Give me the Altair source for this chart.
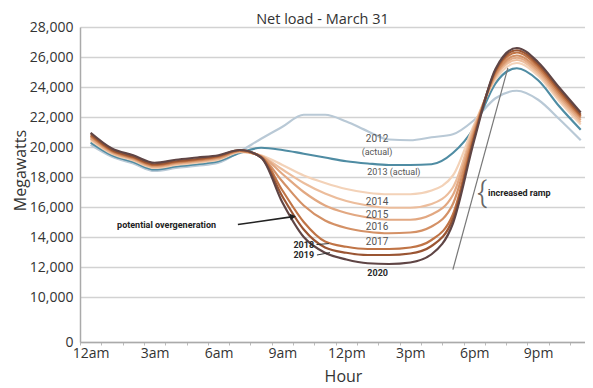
import altair as alt
import pandas as pd

# ---------------- data ----------------
hours = list(range(24))
tick_hours = [0, 3, 6, 9, 12, 15, 18, 21]
tick_labels = ["12am", "3am", "6am", "9am", "12pm", "3pm", "6pm", "9pm"]
minor_ticks = [h - 0.5 for h in range(24)]
y_ticks = [0, 10000, 12000, 14000, 16000, 18000, 20000, 22000, 24000, 26000, 28000]

years = ["2012", "2013", "2014", "2015", "2016", "2017", "2018", "2019", "2020"]
colors = ["#b9c9d6", "#4f8ca3", "#f3d2b8", "#ecbd9c", "#e2a882", "#d49166", "#c07446", "#9a5533", "#5f4545"]

load_2012 = [20150, 19350, 18900, 18400, 18600, 18750, 18950, 19700, 20550, 21350, 22150, 22150,
             21700, 21050, 20500, 20450, 20650, 20850, 21800, 23250, 23750, 23150, 21850, 20450]
load_2013 = [20300, 19450, 19000, 18500, 18700, 18850, 19050, 19600, 19950, 19800, 19550, 19300,
             19050, 18900, 18800, 18800, 18850, 19600, 21300, 24250, 25250, 24450, 22700, 21150]
load_2014 = [20450, 19550, 19100, 18600, 18800, 18950, 19150, 19650, 19450, 18800, 18100, 17600,
             17200, 16950, 16850, 16850, 17100, 18100, 21500, 24500, 25600, 24750, 23050, 21500]
load_2015 = [20550, 19600, 19150, 18650, 18850, 19000, 19200, 19700, 19400, 18500, 17600, 16900,
             16400, 16100, 15950, 15950, 16200, 17300, 21350, 24650, 25800, 24900, 23200, 21650]
load_2016 = [20600, 19650, 19200, 18700, 18900, 19050, 19250, 19700, 19400, 18200, 17000, 16100,
             15600, 15300, 15150, 15150, 15500, 16800, 21200, 24750, 25950, 25050, 23350, 21800]
load_2017 = [20700, 19700, 19250, 18750, 18950, 19100, 19300, 19750, 19350, 17700, 16100, 15100,
             14600, 14350, 14250, 14300, 14700, 16200, 21000, 24850, 26100, 25200, 23500, 21950]
load_2018 = [20750, 19750, 19300, 18800, 19000, 19150, 19350, 19750, 19350, 17100, 15000, 13700,
             13350, 13200, 13200, 13300, 13800, 15500, 20800, 25000, 26300, 25350, 23650, 22050]
load_2019 = [20850, 19800, 19350, 18850, 19050, 19200, 19400, 19800, 19300, 16700, 14500, 13300,
             12950, 12800, 12800, 12900, 13400, 15200, 20650, 25100, 26450, 25500, 23800, 22150]
load_2020 = [20950, 19900, 19450, 18950, 19150, 19300, 19450, 19800, 19300, 16300, 14000, 12950,
             12500, 12250, 12200, 12300, 12850, 14900, 20450, 25200, 26600, 25650, 23950, 22300]

series = [load_2012, load_2013, load_2014, load_2015, load_2016,
          load_2017, load_2018, load_2019, load_2020]

# annotation texts and their anchor points (hour, megawatts)
label_text = ["2012", "2014", "2015", "2016", "2017"]
label_hour = [13.44, 13.44, 13.44, 13.44, 13.44]
label_mw = [20550, 16350, 15500, 14700, 13700]

actual_text = ["(actual)", "2013 (actual)"]
actual_hour = [13.44, 14.23]
actual_mw = [19680, 18350]

dark_text = ["2018", "2019", "2020"]
dark_hour = [10.0, 10.0, 13.47]
dark_mw = [13500, 12800, 11630]

leader_hour = [10.6, 10.62]
leader_hour2 = [11.18, 11.23]
leader_mw = [13500, 12800]
leader_mw2 = [13560, 12960]

callout_text = ["potential overgeneration", "increased ramp"]
callout_hour = [1.24, 18.65]
callout_mw = [14830, 16950]

arrow_hour = [6.91]
arrow_hour2 = [9.5]
arrow_mw = [14830]
arrow_mw2 = [15360]

ramp_hour = [17.0]
ramp_hour2 = [19.58]
ramp_mw = [11830]
ramp_mw2 = [25270]

brace_text = ["{"]
brace_hour = [18.36]
brace_mw = [16950]

# ---------------- tables ----------------
df = pd.concat(
    [pd.DataFrame({"year": yr, "hour": hours, "mw": vals}) for yr, vals in zip(years, series)],
    ignore_index=True,
)
labels_df = pd.DataFrame({"t": label_text, "hour": label_hour, "mw": label_mw})
actual_df = pd.DataFrame({"t": actual_text, "hour": actual_hour, "mw": actual_mw})
dark_df = pd.DataFrame({"t": dark_text, "hour": dark_hour, "mw": dark_mw})
leader_df = pd.DataFrame({"hour": leader_hour, "hour2": leader_hour2, "mw": leader_mw, "mw2": leader_mw2})
callout_df = pd.DataFrame({"t": callout_text, "hour": callout_hour, "mw": callout_mw})
arrow_df = pd.DataFrame({"hour": arrow_hour, "hour2": arrow_hour2, "mw": arrow_mw, "mw2": arrow_mw2})
ramp_df = pd.DataFrame({"hour": ramp_hour, "hour2": ramp_hour2, "mw": ramp_mw, "mw2": ramp_mw2})
brace_df = pd.DataFrame({"t": brace_text, "hour": brace_hour, "mw": brace_mw})
xlab_df = pd.DataFrame({"hour": tick_hours})

FONT = "Open Sans"
xscale = alt.Scale(domain=[-0.5, 23.2], nice=False, zero=False)
yscale = alt.Scale(domain=[0, 10000, 28000], range=[315, 270, 0], nice=False, zero=False)

label_expr = "[" + ",".join("'%s'" % s for s in tick_labels) + "][datum.value / 3]"

x_tick_axis = alt.Axis(values=minor_ticks, labels=False, ticks=True, tickSize=3,
                       tickColor="#bbbbbb", domainColor="#aaaaaa", domainWidth=1.5,
                       grid=False, title=None, orient="bottom")
y_axis = alt.Axis(values=y_ticks, format=",d", grid=True, gridColor="#d2d2d2",
                  gridWidth=1.5, ticks=False, domainColor="#aaaaaa", domainWidth=1.5,
                  labelFont=FONT, labelFontSize=14, labelColor="#333333", labelOverlap=False,
                  labelPadding=7, title="Megawatts", titleFont=FONT,
                  titleFontSize=16, titleFontWeight="normal", titleColor="#333333",
                  titleAngle=270, titleX=-60, titleY=143, titleAlign="center",
                  titleBaseline="middle")


def X(field):
    return alt.X(field, scale=xscale, axis=x_tick_axis)


def Y(field):
    return alt.Y(field, scale=yscale, axis=y_axis)


def xy():
    return dict(x=X("hour:Q"), y=Y("mw:Q"))


def seg():
    return dict(x=X("hour:Q"), x2="hour2:Q", y=Y("mw:Q"), y2="mw2:Q")


lines = alt.Chart(df).mark_line(strokeWidth=2.2, interpolate="monotone").encode(
    color=alt.Color("year:N", scale=alt.Scale(domain=years, range=colors), legend=None),
    order=alt.Order("year:N"),
    **xy(),
)

xlabels = alt.Chart(xlab_df).mark_point(opacity=0).encode(
    x=alt.X("hour:Q", scale=xscale,
            axis=alt.Axis(values=tick_hours, labelExpr=label_expr, ticks=False, domain=False,
                          grid=False, labelFont=FONT, labelFontSize=14, labelColor="#333333",
                          labelPadding=4, title="Hour", titleFont=FONT, titleFontSize=16,
                          titleFontWeight="normal", titleColor="#333333", titleX=263,
                          titleY=26, titleAlign="center", titleBaseline="top",
                          orient="bottom")),
)

year_labels = alt.Chart(labels_df).mark_text(
    font="Roboto", fontSize=10, color="#555555", baseline="middle", align="center"
).encode(text="t:N", **xy())

actual_labels = alt.Chart(actual_df).mark_text(
    font="Roboto", fontSize=9, color="#555555", baseline="middle", align="center"
).encode(text="t:N", **xy())

dark_labels = alt.Chart(dark_df).mark_text(
    font="Roboto", fontSize=9, fontWeight="bold", color="#2a2a2a", baseline="middle", align="center"
).encode(text="t:N", **xy())

leaders = alt.Chart(leader_df).mark_rule(color="#333333", strokeWidth=1).encode(**seg())

callouts = alt.Chart(callout_df).mark_text(
    font="Roboto", fontSize=9, fontWeight="bold", color="#222222", baseline="middle", align="left"
).encode(text="t:N", **xy())

arrow_line = alt.Chart(arrow_df).mark_rule(color="#222222", strokeWidth=1.6).encode(**seg())
arrow_head = alt.Chart(arrow_df).mark_point(
    shape="triangle-right", filled=True, color="#222222", size=45, angle=352, opacity=1
).encode(x=X("hour2:Q"), y=Y("mw2:Q"))

ramp_line = alt.Chart(ramp_df).mark_rule(color="#777777", strokeWidth=1.2).encode(**seg())

brace = alt.Chart(brace_df).mark_text(
    font="Roboto", fontSize=30, fontWeight=300, color="#666666", baseline="middle", align="center"
).encode(text="t:N", **xy())

inner = alt.layer(
    lines, ramp_line, year_labels, actual_labels, dark_labels, leaders,
    callouts, arrow_line, arrow_head, brace,
)

chart = alt.layer(inner, xlabels).resolve_axis(x="independent").properties(
    width=505,
    height=315,
    autosize=alt.AutoSizeParams(type="none"),
    padding={"left": 72, "top": 19, "right": 0, "bottom": 45},
    title=alt.TitleParams("Net load - March 31", font=FONT, fontSize=14.5, fontWeight="normal",
                          color="#333333", anchor="middle", dx=-10, offset=-7, frame="group"),
    background="white",
).configure_view(stroke=None)

chart.save("out.html", embed_options={"renderer": "svg", "actions": False})
